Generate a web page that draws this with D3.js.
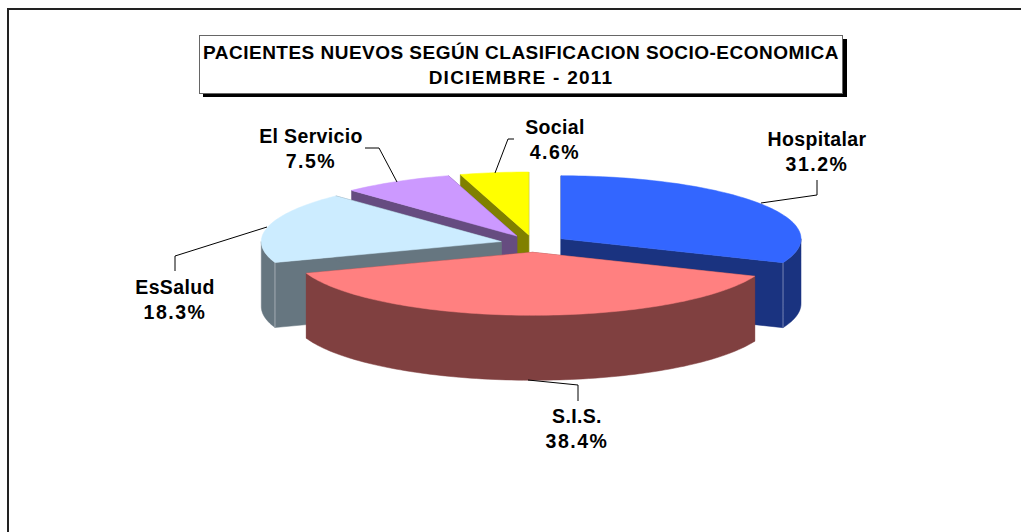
<!DOCTYPE html>
<html>
<head>
<meta charset="utf-8">
<script src="https://cdn.jsdelivr.net/npm/d3@7"></script>
<style>
  html, body { margin: 0; background: #fff; overflow: hidden; }
  text { font-family: "Liberation Sans", Arial, sans-serif; font-weight: bold; fill: #000; }
</style>
</head>
<body>
<div id="chart"></div>
<script>
/** DATA */
const categories = ["Hospitalar", "S.I.S.", "EsSalud", "El Servicio", "Social"];
const values = [31.2, 38.4, 18.3, 7.5, 4.6];
const topColors = ["#3366FF", "#FF8080", "#CCECFF", "#CC99FF", "#FFFF00"];
const sideColors = ["#1A3380", "#804040", "#667680", "#664C80", "#808000"];
const titleLines = ["PACIENTES NUEVOS SEGÚN CLASIFICACION SOCIO-ECONOMICA", "DICIEMBRE - 2011"];
// label anchor and leader line, in page pixels
const labelPos = [[817, 146], [577, 423], [175, 294], [311, 143], [555, 134]];
const leaders = [
  [[817, 180], [817, 195], [761, 203]],
  [[578, 401], [578, 385], [528, 380]],
  [[175, 271], [175, 256], [267, 227]],
  [[365, 148], [379, 148], [397, 182]],
  [[514, 139], [508, 139], [495, 173]],
];
// back slices first, S.I.S. sits in front of everything
const drawOrder = [4, 3, 2, 0, 1];

/** CONSTANTS */
const width = 1021, height = 532;
const cx = 533.5, cy = 243.6, rx = 240, ry = 63, depth = 65, explode = 0.138;
const labelSize = 19.5, labelGap = 25;

const svg = d3.select("#chart").append("svg")
  .attr("width", width).attr("height", height);

// frame runs off the picture on the right and bottom
svg.append("path")
  .attr("d", "M8,532V9H1021")
  .attr("fill", "none").attr("stroke", "#222").attr("stroke-width", 2);

/** PIE */
const arcs = d3.pie().sort(null)(values);

function pt(a, offset) {
  return [offset[0] + rx * Math.sin(a), offset[1] - ry * Math.cos(a)];
}

function ellipseArc(a0, a1, off, dy) {
  const steps = Math.max(2, Math.ceil((a1 - a0) * 40));
  return d3.range(steps + 1).map(i => {
    const p = pt(a0 + (a1 - a0) * i / steps, off);
    return [p[0], p[1] + dy];
  });
}

const line = d3.line();
const pieG = svg.append("g");

drawOrder.forEach(i => {
  const d = arcs[i];
  const mid = (d.startAngle + d.endAngle) / 2;
  const off = [cx + explode * rx * Math.sin(mid), cy - explode * ry * Math.cos(mid)];
  const g = pieG.append("g");
  const wall = pts => g.append("path")
    .attr("d", line(pts) + "Z")
    .attr("fill", sideColors[i])
    .attr("stroke", sideColors[i]).attr("stroke-width", 0.5);

  // flat cut faces
  [d.startAngle, d.endAngle].forEach(a => {
    const p = pt(a, off);
    wall([off, p, [p[0], p[1] + depth], [off[0], off[1] + depth]]);
  });

  // curved rim, only the front half of the ellipse shows
  const a0 = Math.max(d.startAngle, Math.PI / 2);
  const a1 = Math.min(d.endAngle, Math.PI * 1.5);
  if (a1 > a0) {
    wall(ellipseArc(a0, a1, off, 0).concat(ellipseArc(a0, a1, off, depth).reverse()));
  }

  // pale hairline where a cut face turns into the rim
  const corners = [];
  if (d.endAngle > Math.PI / 2 && d.endAngle < Math.PI) corners.push(d.endAngle);
  if (d.startAngle > Math.PI && d.startAngle < Math.PI * 1.5) corners.push(d.startAngle);
  corners.forEach(a => {
    const p = pt(a, off);
    g.append("path")
      .attr("d", line([p, [p[0], p[1] + depth]]))
      .attr("stroke", "#fff").attr("stroke-opacity", 0.4).attr("stroke-width", 1);
  });

  g.append("path")
    .attr("d", line([off].concat(ellipseArc(d.startAngle, d.endAngle, off, 0))) + "Z")
    .attr("fill", topColors[i])
    .attr("stroke", topColors[i]).attr("stroke-width", 0.5);
});

/** LEADERS AND LABELS */
svg.append("g").selectAll("path")
  .data(leaders)
  .join("path")
  .attr("d", d => line(d))
  .attr("fill", "none").attr("stroke", "#000").attr("stroke-width", 1);

const labels = svg.append("g").selectAll("text")
  .data(categories)
  .join("text")
  .attr("text-anchor", "middle")
  .attr("font-size", labelSize);
labels.append("tspan")
  .attr("x", (d, i) => labelPos[i][0])
  .attr("y", (d, i) => labelPos[i][1])
  .attr("letter-spacing", 0.35)
  .text(d => d);
labels.append("tspan")
  .attr("x", (d, i) => labelPos[i][0])
  .attr("y", (d, i) => labelPos[i][1] + labelGap)
  .attr("letter-spacing", 1.5)
  .text((d, i) => values[i].toFixed(1) + "%");

/** TITLE */
svg.append("rect")
  .attr("x", 203).attr("y", 39).attr("width", 644).attr("height", 58)
  .attr("fill", "#000");
svg.append("rect")
  .attr("x", 199.5).attr("y", 35.5).attr("width", 643).attr("height", 58)
  .attr("fill", "#fff").attr("stroke", "#666").attr("stroke-width", 1);
svg.append("g").selectAll("text")
  .data(titleLines)
  .join("text")
  .attr("x", 521)
  .attr("y", (d, i) => 59 + i * 25)
  .attr("text-anchor", "middle")
  .attr("font-size", 19)
  .attr("letter-spacing", (d, i) => i ? 1.25 : 0.48)
  .text(d => d);
</script>
</body>
</html>
